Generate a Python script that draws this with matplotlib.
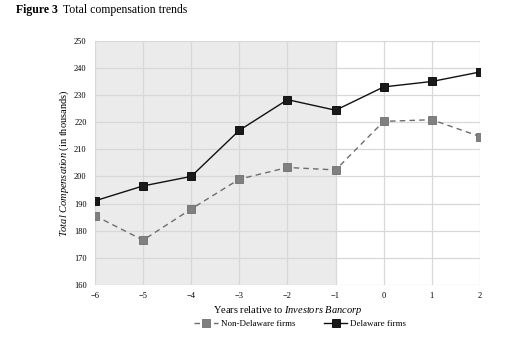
import matplotlib
matplotlib.use('Agg')
import matplotlib.pyplot as plt

years = [-6, -5, -4, -3, -2, -1, 0, 1, 2]
delaware = [191.0, 196.5, 200.0, 217.0, 228.3, 224.4, 233.0, 235.0, 238.5]
non_delaware = [185.5, 176.5, 188.0, 199.0, 203.3, 202.4, 220.3, 220.9, 214.7]
yticks = [160, 170, 180, 190, 200, 210, 220, 230, 240, 250]

plt.rcParams['font.family'] = 'Liberation Serif'
plt.rcParams['mathtext.fontset'] = 'custom'
plt.rcParams['mathtext.rm'] = 'Liberation Serif'
plt.rcParams['mathtext.it'] = 'Liberation Serif:italic'

fig = plt.figure(figsize=(5.09, 3.4), dpi=100)
ax = fig.add_axes([0.1866, 0.162, 0.7564, 0.718])

# shaded pre-event window
ax.axvspan(-6, -1, color='#ebebeb', zorder=0, lw=0)

ax.plot(years, non_delaware, color='#6e6e6e', ls=(0, (4, 3)), lw=1.0,
        marker='s', ms=5.5, mfc='#808080', mec='#6e6e6e', mew=0.6, zorder=3,
        label='Non-Delaware firms')
ax.plot(years, delaware, color='#111111', lw=1.0,
        marker='s', ms=5.5, mfc='#1a1a1a', mec='#000000', mew=0.6, zorder=4,
        label='Delaware firms')

ax.set_xlim(-6, 2)
ax.set_ylim(160, 250)
ax.set_xticks(years)
ax.set_xticklabels([f'\u2212{-y}' if y < 0 else str(y) for y in years])
ax.set_yticks(yticks)
ax.grid(True, color='#d8d8d8', lw=0.9, zorder=1)
ax.set_axisbelow(True)
for s in ax.spines.values():
    s.set_visible(False)
ax.tick_params(axis='x', length=0, labelsize=6, pad=5)
ax.tick_params(axis='y', length=0, labelsize=6, pad=6)

ax.set_xlabel(r'Years relative to $\it{Investors\ Bancorp}$', fontsize=7.5, labelpad=3)
ax.set_ylabel(r'$\it{Total\ Compensation}$ (in thousands)', fontsize=7.5, labelpad=2)

t1 = fig.text(0.031, 0.970, 'Figure 3', fontsize=8.5, fontweight='bold', va='center')
ax.annotate('Total compensation trends', xy=(1, 0), xycoords=t1,
            xytext=(4, 0), textcoords='offset points', fontsize=8.5,
            va='bottom', annotation_clip=False)

fig.legend(loc='center', bbox_to_anchor=(0.59, 0.047), ncol=2, frameon=False,
           fontsize=6.5, handlelength=2.6, columnspacing=3.2, handletextpad=0.3)

fig.savefig('out.png', dpi=100)
